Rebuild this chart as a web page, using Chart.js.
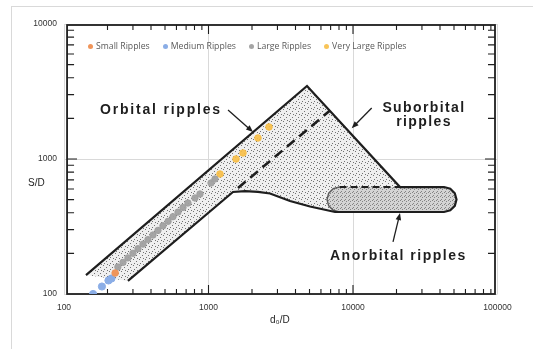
<!DOCTYPE html>
<html><head><meta charset="utf-8">
<script src="https://cdn.jsdelivr.net/npm/chart.js@4.4.1/dist/chart.umd.min.js"></script>
<style>
html,body{margin:0;padding:0;background:#fff;}
#wrap{position:relative;width:533px;height:349px;overflow:hidden;font-family:"Liberation Sans",Arial,sans-serif;background:#fff;}
#frame{position:absolute;left:11px;top:6px;width:700px;height:500px;border:1px solid #d9d9d9;box-sizing:border-box;}
#c{position:absolute;left:0;top:0;}
.t{position:absolute;white-space:nowrap;color:#1e1e1e;}
.ann{font-weight:bold;font-size:14px;line-height:14px;}
#legend{position:absolute;left:88px;top:41px;display:flex;gap:13px;font-family:"Open Sans",sans-serif;font-size:8.7px;line-height:10px;color:#595959;}
#legend .it{display:flex;align-items:center;}
#legend .mk{width:5px;height:5px;border-radius:50%;margin-right:3px;}
</style></head>
<body>
<div id="wrap">
  <div id="frame"></div>
  <canvas id="c" width="533" height="349"></canvas>
  <div id="legend"></div>
  <div class="t" style="left:28px;top:177px;font-size:10px;">S/D</div>
  <div class="t" style="left:270px;top:314px;font-size:10px;">d₀/D</div>
  <div class="t ann" style="left:100px;top:102px;letter-spacing:1.8px;">Orbital ripples</div>
  <div class="t ann" style="left:373px;top:100px;width:102px;text-align:center;letter-spacing:1.4px;">Suborbital<br>ripples</div>
  <div class="t ann" style="left:330px;top:248px;letter-spacing:1.5px;">Anorbital ripples</div>
</div>
<script>
// ---- series ----
const smallX = [226];
const smallY = [143];
const mediumX = [159, 183, 203, 213];
const mediumY = [100, 113.6, 125.9, 130.2];
const largeX = [236, 256, 277, 300, 325, 352, 381, 413, 447, 484, 525, 568, 615, 666, 721, 806, 873, 1041, 1109];
const largeY = [158.5, 171.5, 185.1, 200.2, 216.6, 234.2, 252.9, 273.5, 295.9, 320.1, 345.5, 373.8, 404.3, 437.2, 472.1, 514.1, 550.4, 664.1, 711.1];
const vlargeX = [1201, 1550, 1733, 2200, 2622];
const vlargeY = [774, 1000, 1108, 1431, 1726];

// ---- background diagram (data coordinates) ----
const outlineX = [142, 4805, 21150, 42640, 47100, 50640, 52040, 50640, 47100, 42640, 7505, 6505, 5040, 3665, 2665, 2200, 1789, 1477, 277];
const outlineY = [138, 3473, 620, 620, 603, 558, 501, 450, 417, 405, 405, 419, 445, 489, 555, 570, 579, 570, 125];
const pillX = [8064, 42640, 47100, 50640, 52040, 50640, 47100, 42640, 8064, 7300, 6790, 6607, 6790, 7300];
const pillY = [620, 620, 603, 558, 501, 450, 417, 405, 405, 417, 450, 501, 558, 603];
const pillLeftX = [8064, 7300, 6790, 6607, 6790, 7300, 8064];
const pillLeftY = [620, 603, 558, 501, 450, 417, 405];
const pillTopDashX = [8064, 21150];
const pillTopDashY = [620, 620];
const orbitalDashX = [1600, 6932];
const orbitalDashY = [610, 2287];
const arrowFromX = [1365, 13470, 18920];
const arrowFromY = [2307, 2386, 243];
const arrowToX = [2032, 9795, 21150];
const arrowToY = [1585, 1688, 398];

// ---- axes ----
const xTicks = [100, 1000, 10000, 100000];
const yTicks = [100, 1000, 10000];
const frameX = [105, 96100];
const frameY = [100, 9830];

const zip = (xs, ys) => xs.map((x, i) => ({x: x, y: ys[i]}));

function makePattern(size, base, dots, dotColor) {
  const c = document.createElement('canvas');
  c.width = size; c.height = size;
  const g = c.getContext('2d');
  g.fillStyle = base; g.fillRect(0, 0, size, size);
  g.fillStyle = dotColor;
  dots.forEach(d => g.fillRect(d[0], d[1], 1, 1));
  return g.createPattern(c, 'repeat');
}
const ctx = document.getElementById('c').getContext('2d');
const patA = makePattern(6, '#efefef', [[1,1],[4,3],[2,5],[5,0]], '#727272');
const patB = makePattern(4, '#d4d4d4', [[0,0],[2,1],[1,3]], '#858585');

const tickFont = {family: '"Liberation Sans", Arial, sans-serif', size: 8.5};

const scanPlugin = {
  id: 'scan',
  beforeDatasetsDraw(chart) {
    const {ctx} = chart;
    const xs = chart.scales.x, ys = chart.scales.y;
    const L = xs.getPixelForValue(frameX[0]), R = xs.getPixelForValue(frameX[1]);
    const B = ys.getPixelForValue(frameY[0]), T = ys.getPixelForValue(frameY[1]);
    ctx.save();
    ctx.strokeStyle = '#1e1e1e';
    ctx.lineWidth = 1.8;
    ctx.strokeRect(L, T, R - L, B - T);
    ctx.lineWidth = 1.1;
    ctx.beginPath();
    for (let d = 100; d < 100000; d *= 10) {
      for (let m = 1; m <= 9; m++) {
        const v = d * m;
        if (v <= 100 || v >= 100000) continue;
        const p = xs.getPixelForValue(v);
        const len = m === 1 ? 9 : 5;
        ctx.moveTo(p, B); ctx.lineTo(p, B - len);
        ctx.moveTo(p, T); ctx.lineTo(p, T + len);
      }
    }
    for (let d = 100; d < 10000; d *= 10) {
      for (let m = 1; m <= 9; m++) {
        const v = d * m;
        if (v <= 100 || v >= 10000) continue;
        const p = ys.getPixelForValue(v);
        const len = m === 1 ? 10 : 7;
        ctx.moveTo(L, p); ctx.lineTo(L + len, p);
        ctx.moveTo(R, p); ctx.lineTo(R - len, p);
      }
    }
    ctx.stroke();
    // arrows
    ctx.lineWidth = 1.3;
    ctx.fillStyle = '#1e1e1e';
    for (let i = 0; i < arrowFromX.length; i++) {
      const x1 = xs.getPixelForValue(arrowFromX[i]), y1 = ys.getPixelForValue(arrowFromY[i]);
      const x2 = xs.getPixelForValue(arrowToX[i]), y2 = ys.getPixelForValue(arrowToY[i]);
      const a = Math.atan2(y2 - y1, x2 - x1);
      ctx.beginPath(); ctx.moveTo(x1, y1); ctx.lineTo(x2 - 5 * Math.cos(a), y2 - 5 * Math.sin(a)); ctx.stroke();
      ctx.beginPath();
      ctx.moveTo(x2, y2);
      ctx.lineTo(x2 - 7 * Math.cos(a) + 2.8 * Math.sin(a), y2 - 7 * Math.sin(a) - 2.8 * Math.cos(a));
      ctx.lineTo(x2 - 7 * Math.cos(a) - 2.8 * Math.sin(a), y2 - 7 * Math.sin(a) + 2.8 * Math.cos(a));
      ctx.closePath(); ctx.fill();
    }
    ctx.restore();
  }
};

const lineBase = {type: 'line', fill: false, pointRadius: 0, pointHoverRadius: 0, tension: 0, borderColor: '#1e1e1e', order: 10};

const chart = new Chart(ctx, {
  type: 'scatter',
  data: {
    datasets: [
      {label: 'Small Ripples', data: zip(smallX, smallY), backgroundColor: '#F0955A', borderColor: '#F0955A', pointRadius: 3.3, order: 1},
      {label: 'Medium Ripples', data: zip(mediumX, mediumY), backgroundColor: '#8AADE6', borderColor: '#8AADE6', pointRadius: 3.6, order: 1},
      {label: 'Large Ripples', data: zip(largeX, largeY), backgroundColor: 'rgba(160,160,160,0.95)', borderColor: 'rgba(160,160,160,0.95)', pointRadius: 3.2, order: 1},
      {label: 'Very Large Ripples', data: zip(vlargeX, vlargeY), backgroundColor: 'rgba(247,190,70,0.9)', borderColor: 'rgba(247,190,70,0.9)', pointRadius: 3.3, order: 1},
      Object.assign({}, lineBase, {label: 'region', data: zip(outlineX, outlineY), fill: 'shape', backgroundColor: patA, borderColor: 'rgba(0,0,0,0)', borderWidth: 0.01, order: 30}),
      Object.assign({}, lineBase, {label: 'pill', data: zip(pillX, pillY), fill: 'shape', backgroundColor: patB, borderColor: 'rgba(0,0,0,0)', borderWidth: 0.01, order: 29}),
      Object.assign({}, lineBase, {label: 'outline', data: zip(outlineX, outlineY), borderWidth: 2.2}),
      Object.assign({}, lineBase, {label: 'pillLeft', data: zip(pillLeftX, pillLeftY), borderWidth: 1.4, borderColor: '#5a5a5a'}),
      Object.assign({}, lineBase, {label: 'pillTop', data: zip(pillTopDashX, pillTopDashY), borderWidth: 2, borderDash: [7, 4]}),
      Object.assign({}, lineBase, {label: 'orbitalDash', data: zip(orbitalDashX, orbitalDashY), borderWidth: 2.6, borderDash: [10, 6]})
    ]
  },
  options: {
    responsive: false,
    animation: false,
    events: [],
    layout: {padding: {left: 0, right: 35.5, top: 24, bottom: 0}},
    plugins: {legend: {display: false}, tooltip: {enabled: false}},
    scales: {
      x: {
        type: 'logarithmic', min: 100, max: 100000,
        afterBuildTicks: s => { s.ticks = xTicks.map(v => ({value: v})); },
        afterFit: s => { s.height = 55; },
        grid: {color: '#d9d9d9', lineWidth: 1, drawTicks: false},
        border: {display: false},
        ticks: {padding: 9, font: tickFont, color: '#333', autoSkip: false, maxRotation: 0, callback: v => String(v)}
      },
      y: {
        type: 'logarithmic', min: 100, max: 10000,
        afterBuildTicks: s => { s.ticks = yTicks.map(v => ({value: v})); },
        afterFit: s => { s.width = 64; },
        grid: {color: '#d9d9d9', lineWidth: 1, drawTicks: false},
        border: {display: false},
        ticks: {padding: 7, font: tickFont, color: '#333', autoSkip: false, callback: v => String(v)}
      }
    }
  },
  plugins: [scanPlugin]
});

// HTML legend from the four ripple series
const leg = document.getElementById('legend');
chart.data.datasets.slice(0, 4).forEach(ds => {
  const it = document.createElement('div'); it.className = 'it';
  const mk = document.createElement('span'); mk.className = 'mk'; mk.style.background = ds.backgroundColor;
  const tx = document.createElement('span'); tx.textContent = ds.label;
  it.appendChild(mk); it.appendChild(tx); leg.appendChild(it);
});
</script>
</body></html>
